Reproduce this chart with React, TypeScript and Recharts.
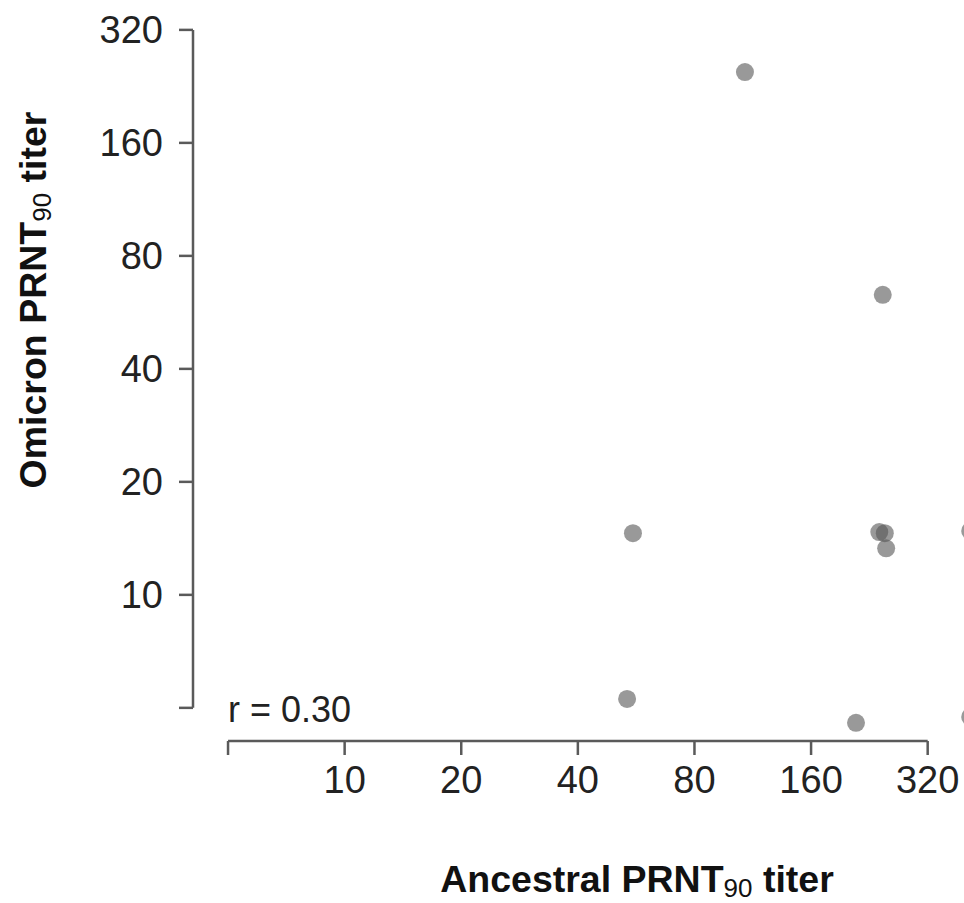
import React from "react";
import {
  ReferenceLine,
  Scatter,
  ScatterChart,
  XAxis,
  YAxis,
} from "recharts";

// titers (log2 axes)
const ancestral = [108, 245, 55.5, 240, 248, 250, 53.6, 209, 412, 412];
const omicron = [247, 63, 14.6, 14.7, 14.6, 13.3, 5.28, 4.56, 14.8, 4.73];

const axisTicks = [5, 10, 20, 40, 80, 160, 320];
const xDomain: [number, number] = [4.06, 522];
const yDomain: [number, number] = [4.08, 340];

const points = ancestral.map((x, i) => ({ x, y: omicron[i] }));

const FONT = "'Liberation Sans', Arial, Helvetica, sans-serif";
const AXIS = "#5a5a5a";

const tickFmt = (v: number) => (v === 5 ? "" : String(v));

const Dot = (props: any) => {
  const { cx, cy } = props;
  if (cx == null || cy == null) return null;
  return <circle cx={cx} cy={cy} r={9} fill="#555555" fillOpacity={0.6} />;
};

export default function App() {
  return (
    <div
      style={{
        position: "absolute",
        left: 0,
        top: 0,
        width: 964,
        height: 903,
        overflow: "hidden",
        background: "#fff",
      }}
    >
      <ScatterChart
        width={1020}
        height={800}
        margin={{ top: 20, right: 10, left: 0, bottom: 0 }}
      >
        <XAxis
          type="number"
          dataKey="x"
          scale="log"
          domain={xDomain}
          ticks={axisTicks}
          tickFormatter={tickFmt}
          axisLine={false}
          tickLine={{ stroke: AXIS, strokeWidth: 2.5 }}
          tickSize={14}
          tickMargin={11}
          height={59}
          tick={{ fontSize: 38, fill: "#222", fontFamily: FONT }}
          interval={0}
        />
        <YAxis
          type="number"
          dataKey="y"
          scale="log"
          domain={yDomain}
          ticks={axisTicks}
          tickFormatter={tickFmt}
          axisLine={false}
          tickLine={{ stroke: AXIS, strokeWidth: 2.5 }}
          tickSize={14}
          tickMargin={16}
          width={193}
          tick={{ fontSize: 38, fill: "#222", fontFamily: FONT }}
          interval={0}
        />
        <ReferenceLine
          segment={[
            { x: 5, y: yDomain[0] },
            { x: 320, y: yDomain[0] },
          ]}
          stroke={AXIS}
          strokeWidth={2.5}
        />
        <ReferenceLine
          segment={[
            { x: xDomain[0], y: 5 },
            { x: xDomain[0], y: 320 },
          ]}
          stroke={AXIS}
          strokeWidth={2.5}
        />
        <Scatter data={points} shape={Dot} isAnimationActive={false} />
      </ScatterChart>
      <svg
        width={964}
        height={903}
        style={{ position: "absolute", left: 0, top: 0, pointerEvents: "none" }}
        fontFamily={FONT}
      >
        <text x={228} y={722} fontSize={36} fill="#222">
          r = 0.30
        </text>
        <text
          x={637}
          y={892}
          fontSize={37.5}
          fontWeight="bold"
          fill="#111"
          textAnchor="middle"
        >
          Ancestral PRNT
          <tspan fontSize={26} fontWeight="normal" dy={5}>
            90
          </tspan>
          <tspan dy={-5}> titer</tspan>
        </text>
        <text
          x={0}
          y={0}
          fontSize={37.5}
          fontWeight="bold"
          fill="#111"
          textAnchor="middle"
          transform="translate(46 300) rotate(-90)"
        >
          Omicron PRNT
          <tspan fontSize={26} fontWeight="normal" dy={5}>
            90
          </tspan>
          <tspan dy={-5}> titer</tspan>
        </text>
      </svg>
    </div>
  );
}
